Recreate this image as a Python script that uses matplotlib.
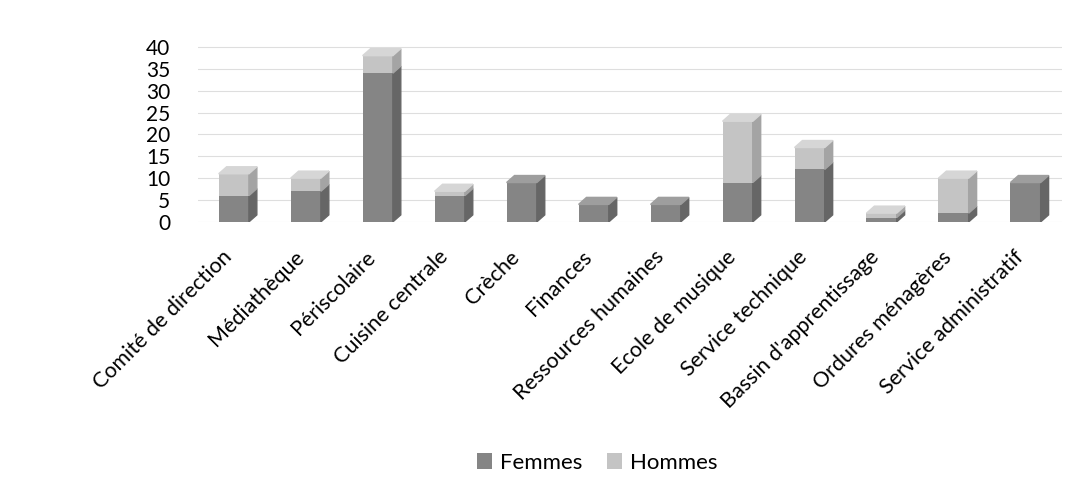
import matplotlib.pyplot as plt
import numpy as np
from matplotlib.patches import Polygon

# Effectifs par service
services = ['Comité de direction', 'Médiathèque', 'Périscolaire', 'Cuisine centrale',
            'Crèche', 'Finances', 'Ressources humaines', 'Ecole de musique',
            'Service technique', "Bassin d'apprentissage", 'Ordures ménagères',
            'Service administratif']
femmes = [6, 7, 34, 6, 9, 4, 4, 9, 12, 1, 2, 9]
hommes = [5, 3, 4, 1, 0, 0, 0, 14, 5, 1, 8, 0]
yticks = [0, 5, 10, 15, 20, 25, 30, 35, 40]

plt.rcParams['font.family'] = ['Lato', 'DejaVu Sans']

fig = plt.figure(figsize=(10.81, 4.92), dpi=100)
ax = fig.add_axes([0.183, 0.549, 0.799, 0.369])

x = np.arange(len(services))
w = 0.42
dx, dy = 0.11, 1.6   # fake 3D depth

faces = {'Femmes': ('#858585', '#666666', '#9e9e9e'),
         'Hommes': ('#c4c4c4', '#a4a4a4', '#d6d6d6')}

def draw_block(xc, y0, h, cols, top):
    front, side, cap = cols
    if h <= 0:
        return
    ax.bar(xc, h, w, bottom=y0, color=front, zorder=3)
    x1 = xc + w / 2
    ax.add_patch(Polygon([(x1, y0), (x1 + dx, y0 + dy), (x1 + dx, y0 + h + dy), (x1, y0 + h)],
                         closed=True, color=side, zorder=3))
    if top:
        x0 = xc - w / 2
        ax.add_patch(Polygon([(x0, y0 + h), (x0 + dx, y0 + h + dy), (x1 + dx, y0 + h + dy), (x1, y0 + h)],
                             closed=True, color=cap, zorder=3))

for i in x:
    f, m = femmes[i], hommes[i]
    draw_block(i, 0, f, faces['Femmes'], m == 0)
    draw_block(i, f, m, faces['Hommes'], True)

# legend proxies
ax.bar([0], [0], color=faces['Femmes'][0], label='Femmes')
ax.bar([0], [0], color=faces['Hommes'][0], label='Hommes')

ax.set_xlim(-0.5, 11.5)
ax.set_ylim(0, 41.5)
ax.set_yticks(yticks)
# labels sit a bit left of the bar centres, like in the original
ax.set_xticks(x - 0.17)
ax.set_xticklabels(services, rotation=45, ha='right', rotation_mode='anchor', fontsize=15.5)
ax.tick_params(axis='y', labelsize=15, length=0, pad=20)
ax.tick_params(axis='x', length=0, pad=18)
ax.yaxis.grid(True, color='#dedede', lw=0.8, zorder=0)
for s in ax.spines.values():
    s.set_visible(False)

fig.legend(loc='center', ncol=2, bbox_to_anchor=(597 / 1081, 1 - 463 / 492),
           frameon=False, fontsize=16, handlelength=0.7, handleheight=0.7,
           columnspacing=1.1, handletextpad=0.35)

fig.savefig('out.png', dpi=100)
